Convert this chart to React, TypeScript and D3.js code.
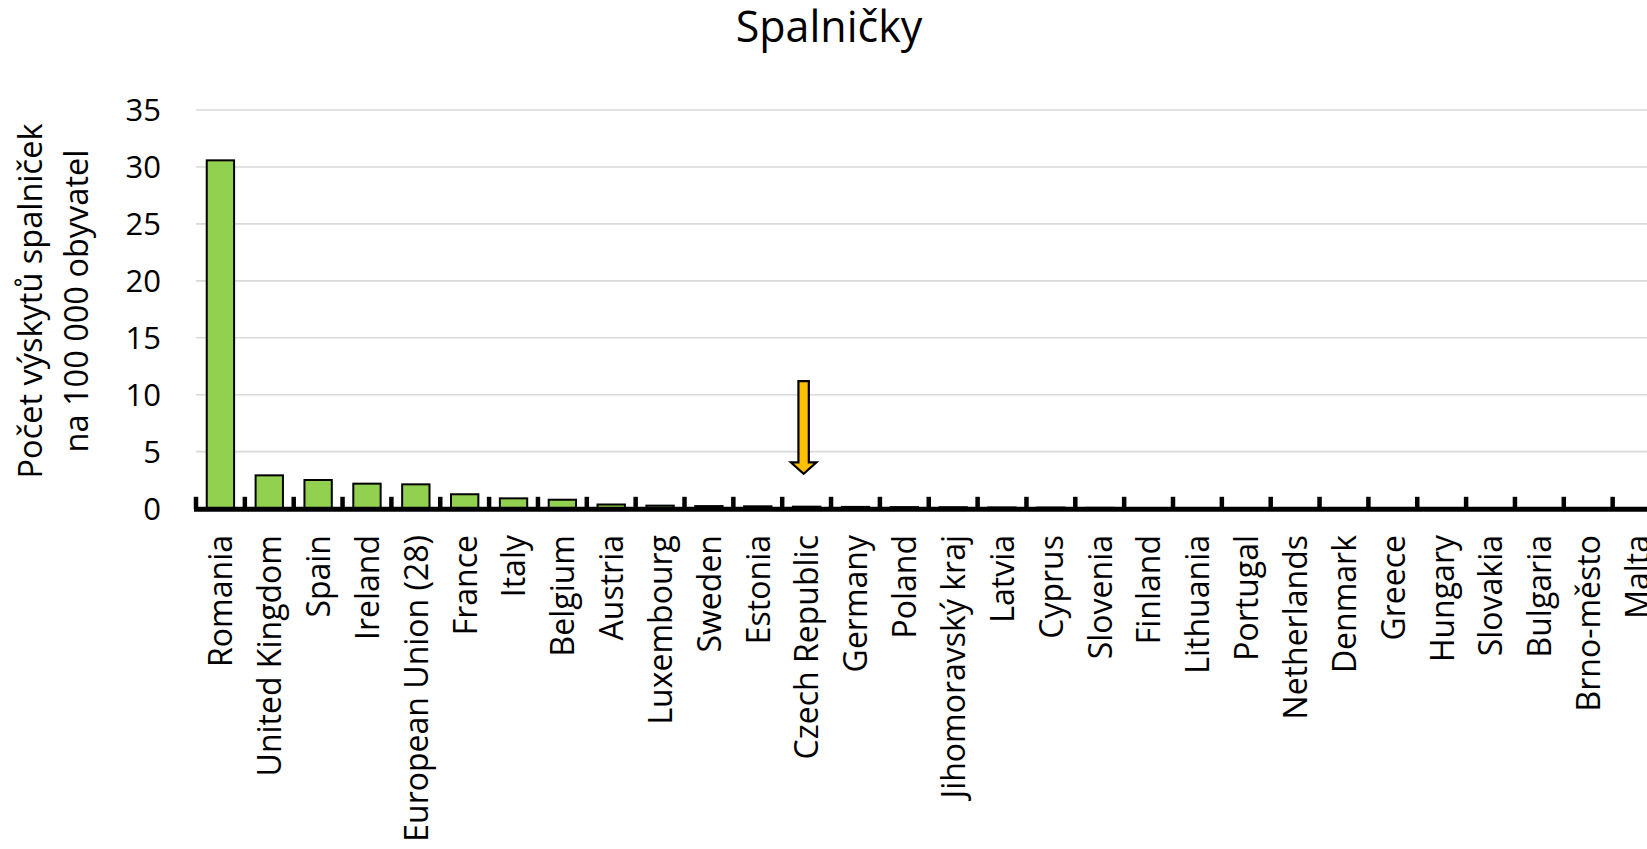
import React from "react";
import * as d3 from "d3";

const categories = [
  "Romania", "United Kingdom", "Spain", "Ireland", "European Union (28)", "France",
  "Italy", "Belgium", "Austria", "Luxembourg", "Sweden", "Estonia", "Czech Republic",
  "Germany", "Poland", "Jihomoravský kraj", "Latvia", "Cyprus", "Slovenia", "Finland",
  "Lithuania", "Portugal", "Netherlands", "Denmark", "Greece", "Hungary", "Slovakia",
  "Bulgaria", "Brno-město", "Malta",
];
const values = [
  30.58, 2.92, 2.51, 2.19, 2.13, 1.26, 0.9, 0.78, 0.36, 0.26, 0.22, 0.2, 0.17,
  0.15, 0.13, 0.12, 0.1, 0.09, 0.07, 0.05, 0.04, 0.03, 0.03, 0.02, 0.02, 0.01,
  0.01, 0.01, 0, 0,
];
const yTicks = [0, 5, 10, 15, 20, 25, 30, 35];
const title = "Spalničky";
const yTitleLines = ["Počet výskytů spalniček", "na 100 000 obyvatel"];
const arrowCategory = "Czech Republic";
const arrowFrom = 11.2;
const arrowTo = 3.05;

const W = 1647;
const H = 849;
const FONT = "'Open Sans', sans-serif";

export default function App() {
  const x0 = 196;
  const step = 48.85;
  const x = d3
    .scaleBand<string>()
    .domain(categories)
    .range([x0, x0 + step * categories.length])
    .paddingInner(0.44)
    .paddingOuter(0.22);
  const y = d3.scaleLinear().domain([0, 35]).range([508.6, 110]);
  const stepW = x.step();
  const boundaries = d3.range(categories.length + 1).map((k) => x0 + k * stepW);

  const ax = (x(arrowCategory) ?? 0) + x.bandwidth() / 2 - 3;
  const aTop = y(arrowFrom);
  const aTip = y(arrowTo);
  const shaftHW = 5.2;
  const headHW = 12.8;
  const headLen = 11.5;
  const arrowPath = [
    [ax - shaftHW, aTop],
    [ax + shaftHW, aTop],
    [ax + shaftHW, aTip - headLen],
    [ax + headHW, aTip - headLen],
    [ax, aTip],
    [ax - headHW, aTip - headLen],
    [ax - shaftHW, aTip - headLen],
  ];
  const arrowD = d3.line()(arrowPath as [number, number][]) + "Z";

  return (
    <div style={{ position: "absolute", left: 0, top: 0, width: W, height: H, overflow: "hidden" }}>
      <svg width={W} height={H} style={{ display: "block", background: "#fff" }} fontFamily={FONT}>
        <text x={829} y={42} textAnchor="middle" fontSize={43} fill="#000">
          {title}
        </text>

        {/* y axis title */}
        <g transform={`translate(0, 301) rotate(-90)`}>
          <text x={0} y={41.5} textAnchor="middle" fontSize={32.5} fill="#000">
            {yTitleLines[0]}
          </text>
          <text x={0} y={88} textAnchor="middle" fontSize={32.5} fill="#000">
            {yTitleLines[1]}
          </text>
        </g>

        {/* gridlines */}
        {yTicks.map((t) => (
          <line key={"g" + t} x1={x0} x2={W} y1={y(t)} y2={y(t)} stroke="#d9d9d9" strokeWidth={1.6} />
        ))}
        {/* y tick labels */}
        {yTicks.map((t) => (
          <text key={"yl" + t} x={161} y={y(t)} dy="0.36em" textAnchor="end" fontSize={31} fill="#000">
            {t}
          </text>
        ))}

        {/* bars */}
        {categories.map((c, i) => (
          <rect
            key={c}
            x={x(c)}
            y={y(values[i])}
            width={x.bandwidth()}
            height={Math.max(0, y(0) - y(values[i]))}
            fill="#92D050"
            stroke="#000"
            strokeWidth={2}
          />
        ))}

        {/* x axis */}
        <line x1={194} x2={W} y1={509.2} y2={509.2} stroke="#000" strokeWidth={5} />
        {boundaries.map((bx, k) => (
          <line key={"t" + k} x1={bx} x2={bx} y1={496.8} y2={509} stroke="#000" strokeWidth={4.5} />
        ))}

        {/* x labels */}
        {categories.map((c) => {
          const cx = (x(c) ?? 0) + x.bandwidth() / 2;
          return (
            <text
              key={"xl" + c}
              transform={`translate(${cx}, 535) rotate(-90)`}
              textAnchor="end"
              dy="0.37em"
              fontSize={32}
              fill="#000"
            >
              {c}
            </text>
          );
        })}

        {/* arrow annotation */}
        <path d={arrowD} fill="#FFC000" stroke="#000" strokeWidth={2.2} strokeLinejoin="miter" />
      </svg>
    </div>
  );
}
